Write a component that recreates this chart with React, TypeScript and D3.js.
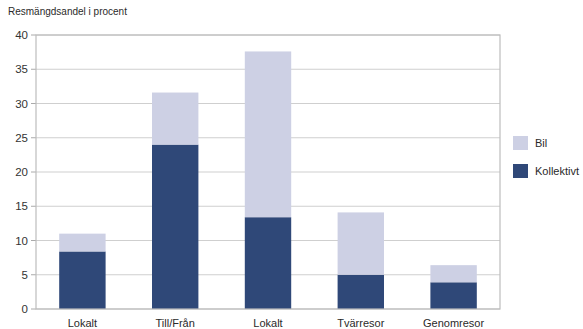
import React from "react";
import * as d3 from "d3";

const categories = ["Lokalt", "Till/Från", "Lokalt", "Tvärresor", "Genomresor"];
const kollektivt = [8.4, 24.0, 13.4, 5.0, 3.9];
const bil = [2.6, 7.6, 24.2, 9.1, 2.5];
const seriesNames = ["Bil", "Kollektivt"];
const yTicks = [0, 5, 10, 15, 20, 25, 30, 35, 40];
const yTitle = "Resmängdsandel i procent";

const W = 583;
const H = 329;
const margin = { left: 36, right: 83, top: 35, bottom: 20 };
const colors: Record<string, string> = { Bil: "#cdd0e4", Kollektivt: "#2f4878" };
const font = "'Liberation Sans', Arial, Helvetica, sans-serif";

export default function App() {
  const x = d3
    .scaleBand<string>()
    .domain(categories.map((_, i) => String(i)))
    .range([margin.left, W - margin.right])
    .paddingInner(0.5)
    .paddingOuter(0.25);
  const y = d3.scaleLinear().domain([0, 40]).range([H - margin.bottom, margin.top]);

  const rows = categories.map((c, i) => ({ key: String(i), Kollektivt: kollektivt[i], Bil: bil[i] }));
  const stacked = d3.stack<any>().keys(["Kollektivt", "Bil"])(rows);

  const x0 = margin.left;
  const x1 = W - margin.right;
  const y0 = y(0);
  const y1 = y(40);

  return (
    <svg
      width={W}
      height={H}
      style={{ position: "absolute", left: 0, top: 0, background: "#fff" }}
      fontFamily={font}
    >
      <text x={8} y={15} fontSize={10} fill="#2a2a2a">
        {yTitle}
      </text>
      {yTicks.map((t) => (
        <g key={t}>
          <line x1={x0} x2={x1} y1={y(t)} y2={y(t)} stroke="#cfcfcf" strokeWidth={1} />
          <line x1={x0 - 5} x2={x0} y1={y(t)} y2={y(t)} stroke="#aaa" strokeWidth={1} />
          <text x={28} y={y(t)} dy="0.35em" textAnchor="end" fontSize={11.5} fill="#333">
            {t}
          </text>
        </g>
      ))}
      {stacked.map((layer) =>
        layer.map((d, i) => (
          <rect
            key={layer.key + i}
            x={x(String(i))}
            width={x.bandwidth()}
            y={y(d[1])}
            height={y(d[0]) - y(d[1])}
            fill={colors[layer.key]}
          />
        ))
      )}
      <rect x={x0} y={y1} width={x1 - x0} height={y0 - y1} fill="none" stroke="#bdbdbd" strokeWidth={1.2} />
      {categories.map((c, i) => (
        <text
          key={i}
          x={(x(String(i)) as number) + x.bandwidth() / 2}
          y={327}
          textAnchor="middle"
          fontSize={11}
          fill="#2a2a2a"
        >
          {c}
        </text>
      ))}
      {seriesNames.map((s, i) => (
        <g key={s} transform={`translate(513,${136 + i * 28})`}>
          <rect width={15} height={14} fill={colors[s]} />
          <text x={22} y={7} dy="0.35em" fontSize={11} fill="#2a2a2a">
            {s}
          </text>
        </g>
      ))}
    </svg>
  );
}
